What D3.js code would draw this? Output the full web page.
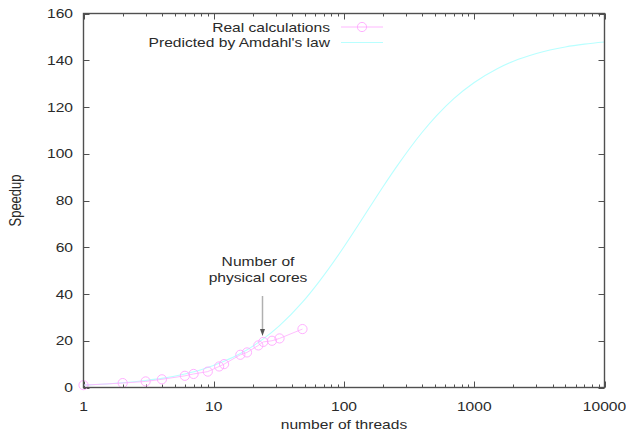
<!DOCTYPE html>
<html><head><meta charset="utf-8">
<script src="https://cdn.jsdelivr.net/npm/d3@7"></script>
<style>body{margin:0;background:#fff}text{font-family:"Liberation Sans",Arial,sans-serif;fill:#2a2a2a}</style>
</head><body><svg id="c" width="626" height="440"></svg>
<script>
// Real calculations (threads, speedup)
const realThreads = [1,2,3,4,6,7,9,11,12,16,18,22,24,28,32,48];
const realSpeedup = [1.0,1.9,2.6,3.5,5.0,5.8,6.8,9.0,10.0,14.0,15.0,18.0,19.5,20.0,21.0,25.0];
// Predicted by Amdahl's law
const predThreads = [1,2,3,4,6,8,12,16,24,32,48,64,100,128,200,256,400,512,700,1000,1500,2000,3000,5000,7000,10000];
const predSpeedup = [1.0,2.0,3.0,3.9,5.8,7.6,11.2,14.5,20.8,26.5,36.5,45.1,60.2,69.3,86.0,94.8,109.3,116.2,123.7,130.5,136.4,139.6,142.9,145.7,146.9,147.8];
const xTicks = [1,10,100,1000,10000];
const yTicks = [0,20,40,60,80,100,120,140,160];
const legendLabels = ["Real calculations","Predicted by Amdahl's law"];
const annotation = ["Number of","physical cores"];
const coresX = 24;

const svg = d3.select("#c");
const L=83.5,R=604.5,T=13.5,B=387.5;
const x = d3.scaleLog().domain([1,10000]).range([L,R]);
const y = d3.scaleLinear().domain([0,160]).range([B,T]);
const axisCol="#505050";
const SX=1.2, FS=13;
function txt(parent,tx,ty,anchor,s){
  return parent.append("text").attr("transform",`translate(${tx},${ty}) scale(${SX},1)`).attr("text-anchor",anchor).attr("font-size",FS).text(s);
}

// minor ticks
const minor=[];
for(let d=1;d<10000;d*=10) for(let k=2;k<10;k++) minor.push(d*k);
const g=svg.append("g");
const px=d=>Math.round(x(d))+0.5, py=d=>Math.round(y(d))+0.5;
g.selectAll(".mb").data(minor).join("line").attr("x1",px).attr("x2",px).attr("y1",B).attr("y2",B-3).attr("stroke",axisCol);
g.selectAll(".mt").data(minor).join("line").attr("x1",px).attr("x2",px).attr("y1",T).attr("y2",T+3).attr("stroke",axisCol);
g.selectAll(".xb").data(xTicks).join("line").attr("x1",px).attr("x2",px).attr("y1",B).attr("y2",B-6).attr("stroke",axisCol);
g.selectAll(".xt").data(xTicks).join("line").attr("x1",px).attr("x2",px).attr("y1",T).attr("y2",T+6).attr("stroke",axisCol);
g.selectAll(".yl").data(yTicks).join("line").attr("x1",L).attr("x2",L+6).attr("y1",py).attr("y2",py).attr("stroke",axisCol);
g.selectAll(".yr").data(yTicks).join("line").attr("x1",R).attr("x2",R-6).attr("y1",py).attr("y2",py).attr("stroke",axisCol);

// tick labels
xTicks.forEach(d=>txt(g,x(d),411,"middle",d));
yTicks.forEach(d=>txt(g,73,y(d)+4.5,"end",d));

// axis titles
txt(svg,(L+R)/2,429,"middle","number of threads");
svg.append("text").attr("transform","translate(21,"+((T+B)/2)+") rotate(-90) scale(1,"+SX+")").attr("text-anchor","middle").attr("font-size",FS).text("Speedup");

// clip
svg.append("clipPath").attr("id","cp").append("rect").attr("x",L).attr("y",T-5).attr("width",R-L).attr("height",B-T+5);
const pg=svg.append("g").attr("clip-path","url(#cp)");

const magenta="#ffb8ff", cyan="#b8ffff", ptCol="#ffa8ff";
const realData=realThreads.map((t,i)=>[t,realSpeedup[i]]);
const predData=predThreads.map((t,i)=>[t,predSpeedup[i]]);
pg.append("path").datum(predData).attr("d",d3.line().x(d=>x(d[0])).y(d=>y(d[1])).curve(d3.curveMonotoneX)).attr("fill","none").attr("stroke",cyan).attr("stroke-width",1.1);
pg.append("path").datum(realData).attr("d",d3.line().x(d=>x(d[0])).y(d=>y(d[1]))).attr("fill","none").attr("stroke",magenta).attr("stroke-width",0.9);
svg.selectAll(".pt").data(realData).join("circle").attr("cx",d=>x(d[0])).attr("cy",d=>y(d[1])).attr("r",4.6).attr("fill","none").attr("stroke",ptCol).attr("stroke-width",0.9);

// frame
svg.append("rect").attr("x",L).attr("y",T).attr("width",R-L).attr("height",B-T).attr("fill","none").attr("stroke",axisCol).attr("stroke-width",1.4);

// legend
const lg=svg.append("g");
legendLabels.forEach((t,i)=>{
  const yy=27+i*15.5;
  txt(lg,330,yy+4.5,"end",t);
  lg.append("line").attr("x1",341).attr("x2",383).attr("y1",yy).attr("y2",yy).attr("stroke",i==0?magenta:cyan).attr("stroke-width",1);
  if(i==0) lg.append("circle").attr("cx",362).attr("cy",yy).attr("r",4.6).attr("fill","none").attr("stroke",ptCol).attr("stroke-width",0.9);
});

// annotation
annotation.forEach((t,i)=>txt(svg,258,266+i*16,"middle",t));
const ax=Math.round(x(coresX))-0.5;
svg.append("line").attr("x1",ax).attr("x2",ax).attr("y1",296).attr("y2",331).attr("stroke","#b0b0b0").attr("stroke-width",1.5);
svg.append("path").attr("d",`M${ax-2.5},${329}L${ax+2.5},${329}L${ax},${336}Z`).attr("fill","#555");
</script></body></html>
